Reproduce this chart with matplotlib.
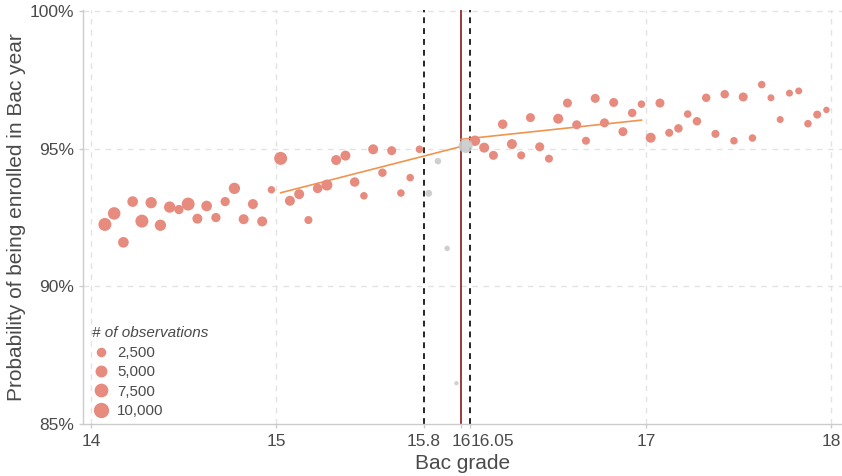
import matplotlib
matplotlib.use("Agg")
import matplotlib.pyplot as plt
from matplotlib.lines import Line2D
import numpy as np

plt.rcParams['font.family'] = ['Liberation Sans', 'DejaVu Sans']

# ---- data ----
grade = [14.075, 14.125, 14.175, 14.225, 14.275, 14.325, 14.375, 14.425, 14.475, 14.525,
         14.575, 14.625, 14.675, 14.725, 14.775, 14.825, 14.875, 14.925, 14.975, 15.025,
         15.075, 15.125, 15.175, 15.225, 15.275, 15.325, 15.375, 15.425, 15.475, 15.525,
         15.575, 15.625, 15.675, 15.725, 15.775, 15.825, 15.875, 15.925, 15.975, 16.025,
         16.075, 16.125, 16.175, 16.225, 16.275, 16.325, 16.375, 16.425, 16.475, 16.525,
         16.575, 16.625, 16.675, 16.725, 16.775, 16.825, 16.875, 16.925, 16.975, 17.025,
         17.075, 17.125, 17.175, 17.225, 17.275, 17.325, 17.375, 17.425, 17.475, 17.525,
         17.575, 17.625, 17.675, 17.725, 17.775, 17.825, 17.875, 17.925, 17.975]
prob = [92.25, 92.65, 91.60, 93.08, 92.37, 93.04, 92.22, 92.88, 92.79, 92.99,
        92.46, 92.92, 92.50, 93.08, 93.56, 92.44, 92.99, 92.36, 93.51, 94.65,
        93.11, 93.35, 92.41, 93.56, 93.68, 94.59, 94.75, 93.79, 93.29, 94.98,
        94.13, 94.93, 93.39, 93.95, 94.98, 93.38, 94.55, 91.38, 86.48, 95.10,
        95.29, 95.04, 94.76, 95.89, 95.17, 94.76, 96.13, 95.07, 94.64, 96.09,
        96.66, 95.87, 95.29, 96.83, 95.94, 96.68, 95.62, 96.30, 96.62, 95.40,
        96.66, 95.58, 95.74, 96.26, 96.00, 96.85, 95.54, 96.98, 95.29, 96.88,
        95.39, 97.33, 96.85, 96.06, 97.02, 97.10, 95.91, 96.24, 96.41]
n_obs = [6400, 5800, 3600, 3600, 6400, 4300, 4300, 4300, 2300, 6400,
         2950, 3600, 2300, 2300, 4300, 2950, 2950, 2950, 1050, 6400,
         2950, 2950, 1400, 2500, 4000, 2950, 2950, 2500, 1100, 2950,
         1700, 2100, 1100, 1100, 1100, 800, 600, 250, 20, 7900,
         3400, 2950, 2100, 2500, 2950, 1400, 2100, 2100, 1400, 2950,
         2100, 2100, 1400, 2100, 2100, 2100, 2100, 1700, 1100, 2950,
         2100, 1400, 1700, 1100, 1700, 1700, 1400, 1700, 1100, 2100,
         1100, 1100, 800, 800, 800, 800, 1100, 1400, 580]
excluded = [False] * 35 + [True] * 5 + [False] * 39   # donut 15.8 - 16.05

left_fit_x = [15.025, 16.0]
left_fit_y = [93.40, 95.08]
right_fit_x = [16.0, 16.975]
right_fit_y = [95.34, 96.04]

cutoff = 16.0
donut = [15.8, 16.05]
x_ticks = [14, 15, 15.8, 16, 16.05, 17, 18]
x_tick_labels = ["14", "15", "15.8", "16", "16.05", "17", "18"]
y_ticks = [85, 90, 95, 100]
y_tick_labels = ["85%", "90%", "95%", "100%"]
legend_sizes = [2500, 5000, 7500, 10000]
legend_labels = ["2,500", "5,000", "7,500", "10,000"]

# ---- style ----
RED = '#e68b7e'
GRAY = '#cacaca'
ORANGE = '#f0944f'
TXT = '#4a4a4a'
AX = '#cccccc'

def diam_px(n):
    return 3.7 + 0.116 * np.sqrt(np.asarray(n, dtype=float))

def s_of(n):
    return (0.72 * diam_px(n)) ** 2

fig = plt.figure(figsize=(8.42, 4.76), dpi=100)
ax = fig.add_axes([82.7 / 842, 52 / 476, (842 - 82.7) / 842, 414 / 476])
ax.set_xlim(13.955, 18.059)
ax.set_ylim(85, 100.04)

# grid
for xv in [14, 15, 17, 18]:
    ax.axvline(xv, color='#e3e3e3', lw=1, ls=(0, (4, 4)), zorder=0)
for yv in [90, 95, 100]:
    ax.axhline(yv, color='#e3e3e3', lw=1, ls=(0, (4, 4)), zorder=0)

# vertical reference lines
for dv in donut:
    ax.axvline(dv, color='black', lw=1.2, ls=(0, (3.5, 3)), zorder=1)
ax.axvline(cutoff, color='#8b1a1a', lw=1.2, zorder=1)

# fits
ax.plot(left_fit_x, left_fit_y, color=ORANGE, lw=1.2, zorder=2)
ax.plot(right_fit_x, right_fit_y, color=ORANGE, lw=1.2, zorder=2)

# points
g = np.array(grade); p = np.array(prob); nn = np.array(n_obs); ex = np.array(excluded)
ax.scatter(g[~ex], p[~ex], s=s_of(nn[~ex]), color=RED, edgecolors='none', zorder=3)
ax.scatter(g[ex], p[ex], s=s_of(nn[ex]), color=GRAY, edgecolors='none', zorder=3, alpha=0.9)

# axes styling
for sp in ['top', 'right']:
    ax.spines[sp].set_visible(False)
for sp in ['left', 'bottom']:
    ax.spines[sp].set_color(AX)
    ax.spines[sp].set_linewidth(1)
ax.set_xticks(x_ticks)
ax.set_xticklabels(x_tick_labels)
ax.set_yticks(y_ticks)
ax.set_yticklabels(y_tick_labels)
ax.tick_params(axis='both', colors=AX, labelcolor=TXT, labelsize=12.5, length=3, width=1)
ax.tick_params(axis='x', pad=4)
for lbl in ax.get_xticklabels():
    if lbl.get_text() == "16.05":
        lbl.set_horizontalalignment('left')
ax.set_xlabel("Bac grade", fontsize=15, color=TXT, labelpad=4)
ax.set_ylabel("Probability of being enrolled in Bac year", fontsize=15, color=TXT, labelpad=2)

# legend
handles = [Line2D([], [], marker='o', ls='', color=RED, markeredgewidth=0,
                  markersize=0.72 * diam_px(v)) for v in legend_sizes]
leg = ax.legend(handles, legend_labels, title="# of observations", loc='lower left',
                bbox_to_anchor=(0.004, 0.0), frameon=False, fontsize=10.8,
                title_fontsize=11, labelspacing=0.36, handletextpad=0.5,
                borderaxespad=0.0, alignment='left', handlelength=1.2)
leg.get_title().set_fontstyle('italic')
leg.get_title().set_color(TXT)
for t in leg.get_texts():
    t.set_color(TXT)

fig.savefig("out.png", dpi=100)
